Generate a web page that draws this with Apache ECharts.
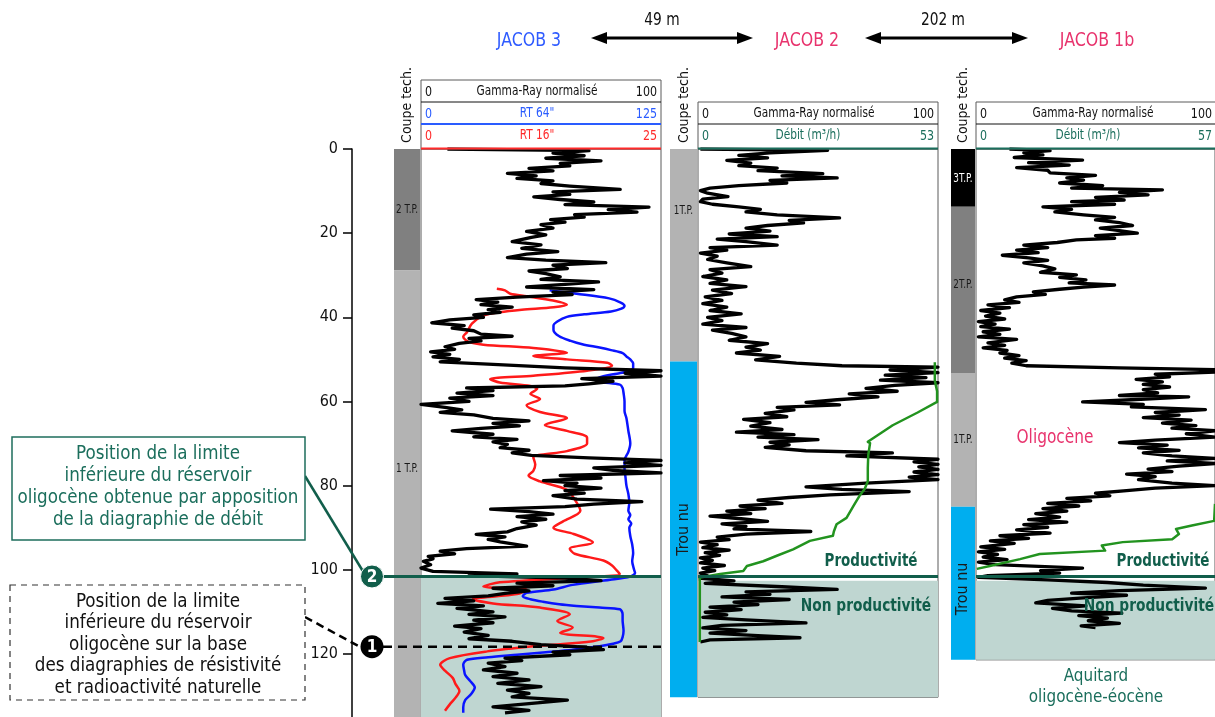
<!DOCTYPE html>
<html><head><meta charset="utf-8">
<script src="https://cdn.jsdelivr.net/npm/echarts@6/dist/echarts.min.js"></script>
<style>html,body{margin:0;padding:0;background:#fff;}#c{width:1215px;height:717px;}</style>
</head><body><div id="c"></div>
<script>
const FONT = "'DejaVu Sans Condensed','DejaVu Sans',sans-serif";

// ---------- data ----------
const depthTicks = [0, 20, 40, 60, 80, 100, 120];
const wells = ['JACOB 3', 'JACOB 2', 'JACOB 1b'];
const distances = ['49 m', '202 m'];
const grScale = [0, 100];
const rt64Scale = [0, 125];
const rt16Scale = [0, 25];
const debitJ2Scale = [0, 53];
const debitJ1bScale = [0, 57];
const wellBottoms = [135, 129, 120.2];
const limitFlowDepth = 101.6;   // limite 2 (débit)
const limitResDepth = 118.3;    // limite 1 (résistivité)

// coupe technique: [top, bottom, label, labelDepth, kind]
const j3Coupe = [[0, 28.9, '2 T.P.', 14.5, 'tp2'], [28.9, 135, '1 T.P.', 76, 'tp1']];
const j2Coupe = [[0, 50, '1T.P.', 14.6, 'tp1'], [50, 129, 'Trou nu', 89.5, 'open']];
const j1bCoupe = [[0, 13.6, '3T.P.', 7, 'tp3'], [13.6, 52.7, '2T.P.', 32, 'tp2'], [52.7, 84.2, '1T.P.', 68.5, 'tp1'], [84.2, 120.2, 'Trou nu', 103.5, 'open']];

// curves: [depth, value]
const j3Gr = [[0,11],[0.4,70],[1,55],[1.6,68],[2.2,52],[2.8,75],[3.4,58],[4,62],[4.6,45],[5.2,55],[5.8,36],[6.4,48],[7,40],[7.6,55],[8.2,50],[8.8,62],[9.6,83],[10.2,55],[10.8,62],[11.4,47],[12,58],[12.6,72],[13.2,60],[13.8,95],[14.4,78],[15,90],[15.6,64],[16.2,68],[16.8,54],[17.4,60],[18,50],[18.8,55],[19.6,44],[20.4,52],[21,46],[22,38],[22.8,50],[23.6,42],[24.4,57],[25,44],[25.8,36],[26.4,52],[27,77],[27.6,55],[28.4,61],[29,45],[29.6,52],[30.4,58],[31,50],[31.6,74],[32.2,60],[32.8,44],[33.4,72],[34,55],[34.6,63],[35.2,40],[35.8,23],[36.4,32],[37,25],[37.6,38],[38.2,28],[38.8,33],[39.4,22],[40,26],[40.6,12],[41.3,4.5],[42,18],[42.6,13],[43.2,22],[44,25],[44.5,38],[45,20],[45.6,25],[46.2,16],[47,10],[47.6,14],[48.2,4],[48.8,12],[49.4,5],[50,16],[50.6,8],[51.2,30],[52,60],[52.7,100],[53.3,85],[54,100],[54.6,67],[55.2,80],[55.8,70],[56.3,60],[56.8,19],[57.4,30],[58,15],[58.6,30],[59.2,12],[60,20],[60.7,0],[61.4,10],[62,17],[62.6,8],[63.2,22],[64,30],[64.6,45],[65.2,30],[65.8,41],[66.4,25],[67,13],[67.8,30],[68.4,22],[69,40],[69.6,30],[70.2,36],[71,33],[71.6,45],[72.2,38],[72.8,46],[73.4,70],[74,100],[74.6,85],[75.2,100],[75.8,72],[76.4,80],[77,100],[77.6,58],[78.2,75],[78.8,51],[79.4,65],[80,60],[80.6,75],[81.2,60],[81.8,68],[82.4,55],[83.2,65],[83.8,92],[84.4,72],[85,60],[85.6,29],[86.2,45],[86.8,55],[87.4,40],[88,52],[88.6,42],[89.4,48],[90.2,40],[91,36],[91.6,23],[92.2,35],[92.8,28],[93.4,33],[94.4,44],[95,19],[95.6,8],[96.2,14],[96.8,3],[97.4,5],[98,1],[98.8,4],[99.6,0],[100.4,5],[101,40],[101.4,20],[102,60],[102.6,75],[103.2,40],[103.8,55],[104.4,30],[105,45],[105.6,35],[106.2,28],[106.8,10],[107.4,22],[108,7],[108.6,26],[109.2,15],[110,30],[110.6,20],[111.2,35],[112,22],[112.6,30],[113.4,14],[114,25],[114.8,18],[115.6,28],[116.4,20],[117,38],[117.8,50],[118.4,68],[119,76],[119.6,55],[120.2,62],[121,35],[121.6,42],[122.2,28],[123,35],[123.8,26],[124.6,40],[125.4,30],[126.2,45],[127,32],[127.8,50],[128.6,36],[129.4,45],[130.2,38],[131,61],[131.8,45],[132.6,30],[133.4,45],[134,35]];
const j3Rt64 = [[33.6,67],[34.4,81],[35.5,98],[36.5,104],[37.3,106],[38,104],[38.6,99],[39.3,85],[39.9,76],[41,71],[42,69],[43,69],[44.5,72],[45.6,78],[46.4,84],[47.2,93],[47.8,99],[48.5,105],[49.3,107],[50,109],[51,110.5],[52,110.5],[52.7,109],[53.4,102],[54,95],[54.7,91.5],[55.3,93],[56,103.6],[56.8,105],[58,105.5],[60,106],[62.3,106],[64,107],[67,108],[70,109],[72,108],[74,106],[76,106],[78,106.5],[80,107],[82,108],[84,108.5],[86,108],[87,109],[88,108],[89,109.5],[90,108.5],[92,109],[94,110],[96,110.5],[98,110],[100,111],[100.8,111.5],[101.6,109],[102.4,98.5],[103.6,79],[104.7,69],[105.5,55],[106.3,53],[107,57],[107.6,63.5],[108.2,72],[108.6,81],[109,93],[109.4,103.6],[110.6,105],[112,105],[114.5,105.5],[116,105],[117,104],[117.6,100],[118.2,93],[119,79],[119.6,65],[120.2,50],[120.8,35],[121.4,24],[122.6,22],[124,22.5],[125,23],[126.4,25.5],[128,28],[129.6,26],[131,23],[132.7,22],[134,22]];
const j3Rt16 = [[33.2,7.9],[33.6,8.75],[34.4,9.3],[35,11],[36,13.75],[37,15.2],[37.6,13.8],[38.2,10.5],[38.8,8.2],[39.6,6.5],[41.5,5.3],[43.5,4.8],[44.6,4.4],[45.8,4.9],[46.5,6.5],[47.3,11.7],[48.4,15.2],[49.2,11.7],[50,15.2],[50.8,19.4],[51.5,19.9],[52.7,17.3],[53.9,11.7],[54.7,7.2],[55.5,8.2],[56.3,11.4],[57,12.1],[58.2,11.4],[59.4,12.4],[60.9,11],[62.5,12.4],[64,15.2],[65.6,12.9],[67,15.2],[68.6,17.3],[70,17.3],[71.8,15.2],[73.3,11.7],[75,11.9],[76.5,11.7],[77.6,11.2],[79,12.4],[81,15.2],[84,16.2],[86,16.6],[88.5,14.8],[90,13.8],[91.5,15.9],[93.5,17.9],[95,15.5],[96.2,16],[97.8,19],[99,19.9],[100.2,20.4],[101,20.7],[101.8,16.9],[103,8.2],[104,6.5],[104.7,11],[105.8,10],[107,5.4],[108,7.5],[109,12.4],[110.6,15.5],[112.2,14.2],[113.7,15.8],[115,14.5],[116.2,19],[117,17.9],[118.2,11.7],[119.4,6.9],[121,3],[122.6,2],[124,2.5],[125.7,3.3],[127.2,3.6],[128.8,4],[130.4,3.6],[132,3],[133.5,2.5]];
const j2Gr = [[0,1],[0.3,54],[0.9,30],[1.5,17],[2.1,29],[2.7,12],[3.3,22],[3.9,17],[4.5,33],[5.1,25],[5.8,52],[6.3,35],[6.8,58],[7.4,30],[8,37],[8.6,17],[9.2,5],[9.8,1],[10.4,4],[11.2,12.5],[11.8,2],[12.4,1],[13,6],[13.6,17],[14.2,26],[14.8,20],[15.5,33],[16.2,59],[16.8,38],[17.4,44],[18,29],[18.6,20],[19.3,30],[20,13],[20.6,33],[21.2,8],[21.8,20],[22.6,33],[23.2,5],[23.8,12],[24.5,1],[25.2,8],[26,4],[26.8,12],[27.7,22],[28.4,5],[29.2,10],[30,2],[30.8,12],[31.6,5],[32.4,20],[33.2,6],[34,14],[34.8,3],[35.6,10],[36.4,2],[37.2,12],[38,5],[38.8,18],[39.6,4],[40.4,10],[41.2,2],[42,20],[42.6,6],[43.4,14],[44.2,20],[45,13],[45.8,29],[46.6,20],[47.3,26],[48,16],[48.8,34],[49.6,24],[50.4,41],[51,60],[51.3,100],[52,80],[52.6,100],[53.2,78],[53.8,95],[54.4,76],[55,100],[55.6,82],[56.3,70],[57,83],[57.6,63],[58.3,75],[59,58],[59.6,45],[60.2,59],[60.8,33],[61.4,40],[62.2,28],[63,37],[63.6,19],[64.4,30],[65.2,22],[66,35],[66.6,16],[67.2,40],[67.8,25],[68.4,50],[69,30],[69.6,38],[70.2,28],[71,45],[71.5,81],[72.2,62],[73,100],[73.6,90],[74.2,100],[74.8,92],[75.4,100],[76,90],[76.6,100],[77.2,88],[77.8,100],[78.6,70],[79.5,45],[80.1,60],[80.6,88],[81.4,55],[82,38],[82.6,25],[83.4,35],[84,17.5],[84.6,28],[85.2,12],[85.8,22],[86.4,5],[87,18],[87.6,29],[88.2,10],[88.8,20],[89.4,15],[90,47],[90.6,20],[91.3,8],[91.9,13],[92.5,1],[93.1,8],[93.8,2],[94.4,13],[95,3],[95.6,9],[96.2,1],[96.8,6],[97.4,1],[98,11],[98.6,2],[99.2,7],[99.8,1],[100.4,4],[101,1],[101.6,15],[102.2,3],[103,35],[103.6,58],[104.2,20],[104.8,30],[105.4,10],[106,38],[106.6,15],[107.2,25],[107.8,5],[108.4,18],[109,3],[109.6,12],[110.2,2],[110.8,20],[111.5,45],[112.1,10],[112.7,2],[113.3,20],[113.9,5],[114.5,25],[115,42.5],[115.5,5],[116,1]];
const j2Debit = [[50.2,52.3],[52,52.3],[54.5,52.3],[57,52.8],[59.5,52.8],[62,48.5],[65,43],[68.9,37.5],[69.2,38],[72,37.6],[75,37.5],[78.2,37.5],[80,36.8],[81.4,35.8],[83.7,34.5],[86.8,32.8],[88.3,30.6],[90,30],[91,29.8],[92.2,24.7],[94.2,21],[95.7,17.4],[97,14.4],[98.1,10.8],[99.3,10],[100,4.9],[100.8,0.4],[116,0.4]];
const j1bGr = [[0,14],[0.4,31],[0.9,20],[1.4,28],[2,16],[2.6,44.6],[3.2,22],[3.8,39],[4.4,17],[5,30],[5.6,31],[6.2,50],[6.8,38],[7.3,45],[8,35],[8.6,53],[9.2,40],[9.6,78],[10.2,60],[10.8,72],[11.4,50],[12,62],[12.4,40],[13,58],[13.6,28],[14.2,40],[14.8,33],[15.5,45],[16.1,58],[16.7,50],[17.3,60],[18,65.5],[18.6,52],[19.2,60],[19.8,67.5],[20.4,50],[21,58],[21.4,42],[22,34],[22.6,20],[23.2,30],[23.8,17],[24.4,26],[25,11],[25.6,22],[26.2,30],[26.8,20],[27.5,28],[28.2,33],[29,27],[29.6,42],[30.2,35],[30.8,46],[31.5,39],[32,58],[32.5,45],[33,35],[33.6,24],[34.2,29],[34.8,17],[35.5,12],[36.1,18],[36.7,5],[37.3,14],[38,2],[38.6,10],[39.3,4],[40,12],[40.6,1],[41.2,8],[41.8,2],[42.4,14],[43,3],[43.6,10],[44.2,1],[44.8,17],[45.6,5],[46.2,12],[46.8,3],[47.4,13],[48,10],[48.6,18],[49.2,12],[49.8,21],[50.4,15],[51,21],[51.5,60],[51.9,100],[52.5,100],[53,75],[53.6,81],[54.2,67],[54.8,78],[55.4,70],[56,81],[56.6,70],[57.4,76],[58,60],[58.3,89],[59,65],[59.5,44.6],[60.1,70],[60.7,65],[61.3,96],[62,75],[62.6,85],[63.2,70],[63.8,90],[64.5,78],[65.1,92],[65.7,82],[66.3,100],[67,88],[67.8,100],[68.5,75],[69.1,60],[69.7,80],[70.3,68],[70.9,85],[71.5,70],[72.2,82],[72.8,100],[73.4,80],[74,100],[74.6,85],[75.3,72],[75.9,82],[76.5,63],[77.1,75],[77.8,68],[78.6,82],[79.2,100],[79.8,75],[80.4,63],[81,50],[81.6,56],[82.2,38],[82.8,48],[83.4,30],[84,43],[84.6,28],[85.2,38],[85.8,25],[86.6,35],[87.2,22],[87.8,38],[88.4,20],[89,30],[89.6,17],[90.4,31],[91,10],[91.6,22],[92.2,6],[92.8,16],[93.6,2],[94.2,12],[94.8,1],[95.4,9],[96,3],[96.6,13],[97.2,1],[97.8,8],[98.6,44.6],[99.2,27],[99.8,35],[100.4,5],[100.8,1],[101.4,30],[102,55],[102.6,70],[103.3,96],[103.9,60],[104.5,40],[105,63],[105.6,45],[106.2,30],[106.8,25],[107.5,46],[108.1,32],[108.7,40],[109.2,61],[109.8,43],[110.4,55],[111,47],[111.6,60],[112.2,44],[112.6,50]];
const j1bDebit = [[83.5,57],[87.5,56.8],[88.6,51.5],[89.4,47.7],[90.6,48.4],[91.8,46.8],[92.5,35],[93.3,30],[94.5,30.8],[95.3,15.2],[96.5,10.5],[98.1,3.3],[98.8,0.2]];

// texts
const legendFlow = ['Position de la limite', 'inférieure du réservoir', 'oligocène obtenue par apposition', 'de la diagraphie de débit'];
const legendRes = ['Position de la limite', 'inférieure du réservoir', 'oligocène sur la base', 'des diagraphies de résistivité', 'et radioactivité naturelle'];

// ---------- layout / styles ----------
const PXM = 4.25, TOP = 149;
const COUPE_COLORS = { tp3: '#000000', tp2: '#808080', tp1: '#b3b3b3', open: '#00aeef' };
const GREEN = '#115e4b';
const PINK = '#e8336d';
const BLUE_T = '#2f5bff';

const grids = [
  { left: 394, width: 26, b: wellBottoms[0] },
  { left: 421, width: 240, b: wellBottoms[0], border: true },
  { left: 670, width: 27, b: wellBottoms[1] },
  { left: 698, width: 240, b: wellBottoms[1], border: true },
  { left: 951, width: 24, b: wellBottoms[2] },
  { left: 976, width: 240, b: wellBottoms[2], border: true }
].map(g => ({ left: g.left, width: g.width, top: TOP, height: g.b * PXM, show: !!g.border, borderColor: '#5a5a5a', borderWidth: 1, backgroundColor: 'rgba(0,0,0,0)' }));

const xA = (gi, sc) => ({ type: 'value', gridIndex: gi, min: sc[0], max: sc[1], show: false });
const xAxis = [xA(0,[0,1]), xA(1,grScale), xA(1,rt64Scale), xA(1,rt16Scale), xA(2,[0,1]), xA(3,grScale), xA(3,debitJ2Scale), xA(4,[0,1]), xA(5,grScale), xA(5,debitJ1bScale)];
const gridBottom = [0,0,1,1,2,2];
const yAxis = gridBottom.map((w, gi) => ({ type: 'value', gridIndex: gi, inverse: true, min: 0, max: wellBottoms[w], show: false }));
yAxis[0] = {
  type: 'value', gridIndex: 0, inverse: true, min: depthTicks[0], max: wellBottoms[0], interval: depthTicks[1] - depthTicks[0],
  position: 'left', offset: 42,
  axisLine: { show: true, onZero: false, lineStyle: { color: '#000', width: 1.5 } },
  axisTick: { show: true, length: 9, lineStyle: { color: '#000', width: 1.5 } },
  axisLabel: { show: true, margin: 14, fontSize: 16, color: '#111', fontFamily: FONT, showMaxLabel: false, formatter: v => depthTicks.includes(v) ? String(v) : '' },
  splitLine: { show: false }
};

function coupeSeries(seg, xi, yi) {
  return {
    type: 'custom', xAxisIndex: xi, yAxisIndex: yi, z: 1, silent: true,
    data: seg.map(s => [s[0], s[1]]),
    renderItem: (params, api) => {
      const s = seg[params.dataIndex];
      const p0 = api.coord([0, s[0]]), p1 = api.coord([1, s[1]]);
      const cs = params.coordSys;
      const open = s[4] === 'open';
      const pl = api.coord([0.5, s[3]]);
      return { type: 'group', children: [
        { type: 'rect', shape: { x: cs.x, y: p0[1], width: cs.width, height: p1[1] - p0[1] }, style: { fill: COUPE_COLORS[s[4]] } },
        { type: 'text', x: cs.x + cs.width / 2, y: pl[1], rotation: open ? Math.PI / 2 : 0, scaleX: open ? 1 : 0.82,
          style: { text: s[2], fill: s[4] === 'tp3' ? '#fff' : '#1a1a1a', font: (open ? '16px ' : '12px ') + FONT, align: 'center', verticalAlign: 'middle' } }
      ]};
    }
  };
}
function shadeSeries(xi, yi, bottom) {
  return {
    type: 'custom', xAxisIndex: xi, yAxisIndex: yi, z: 1, silent: true,
    data: [[limitFlowDepth, bottom]],
    renderItem: (params, api) => {
      const cs = params.coordSys;
      const y0 = api.coord([0, api.value(0)])[1], y1 = api.coord([0, api.value(1)])[1];
      return { type: 'rect', shape: { x: cs.x, y: y0, width: cs.width, height: y1 - y0 }, style: { fill: '#bfd6d1' } };
    }
  };
}
const lineS = (d, xi, yi, color, w, smooth) => ({
  type: 'line', xAxisIndex: xi, yAxisIndex: yi, z: 3, silent: true, symbol: 'none', smooth: smooth || false, clip: true,
  data: d.map(p => [p[1], p[0]]), lineStyle: { color, width: w, join: 'round' }
});

const series = [
  coupeSeries(j3Coupe, 0, 0), coupeSeries(j2Coupe, 4, 2), coupeSeries(j1bCoupe, 7, 4),
  shadeSeries(1, 1, wellBottoms[0]), shadeSeries(5, 3, wellBottoms[1]), shadeSeries(8, 5, wellBottoms[2]),
  lineS(j3Rt64, 2, 1, '#0a14ff', 2.5, 0.3),
  lineS(j3Rt16, 3, 1, '#ff1a1a', 2.5, 0.3),
  lineS(j3Gr, 1, 1, '#000', 3.3),
  lineS(j2Gr, 5, 3, '#000', 3.3),
  lineS(j2Debit, 6, 3, '#22931f', 2.5),
  lineS(j1bGr, 8, 5, '#000', 3.3),
  lineS(j1bDebit, 9, 5, '#22931f', 2.5)
];

const chart = echarts.init(document.getElementById('c'), null, { renderer: 'canvas' });
chart.setOption({ animation: false, backgroundColor: '#fff', grid: grids, xAxis, yAxis, series });

// ---------- annotations ----------
const yOf = (yi, d) => chart.convertToPixel({ yAxisIndex: yi }, d);
const yFlow = yOf(1, limitFlowDepth), yRes = yOf(1, limitResDepth);
const T = (text, x, y, size, color, align, sx, bold) => ({ type: 'text', x, y, z: 50, scaleX: sx || 1,
  style: { text, fill: color, font: (bold ? 'bold ' : '') + size + 'px ' + FONT, align: align || 'center', verticalAlign: 'middle' } });
const L = (x1, y1, x2, y2, color, w, dash) => ({ type: 'line', z: 40, shape: { x1, y1, x2, y2 }, style: { stroke: color, lineWidth: w, lineDash: dash || null } });
const tri = (pts) => ({ type: 'polygon', z: 40, shape: { points: pts }, style: { fill: '#000' } });
function arrow(x1, x2, y) {
  return [L(x1 + 12, y, x2 - 12, y, '#000', 3), tri([[x1, y], [x1 + 16, y - 6], [x1 + 16, y + 6]]), tri([[x2, y], [x2 - 16, y - 6], [x2 - 16, y + 6]])];
}
function header(x, w, top, rows) {
  const els = [{ type: 'rect', z: 40, shape: { x: x, y: top, width: w, height: TOP - top }, style: { fill: null, stroke: '#5a5a5a', lineWidth: 1 } }];
  rows.forEach((r, i) => {
    const cy = top + 11 + i * 22;
    els.push(T(String(r.sc[0]), x + 4, cy + 1, 14, r.color, 'left', 0.88));
    els.push(T(r.name, x + r.cx, cy, 14, r.color, 'center', 0.84));
    els.push(T(String(r.sc[1]), x + w - 4, cy + 1, 14, r.color, 'right', 0.88));
    const ly = top + 22 * (i + 1) + (i === rows.length - 1 ? 2.5 : 0);
    els.push(L(x, ly, x + w, ly, r.line, r.lw));
  });
  return els;
}
const coupeTitle = (x) => ({ type: 'text', x, y: 105, z: 50, rotation: Math.PI / 2,
  style: { text: 'Coupe tech.', fill: '#111', font: '14px ' + FONT, align: 'center', verticalAlign: 'middle' } });

const gx = [];
gx.push(T(wells[0], 529, 41, 20, BLUE_T, 'center', 0.88), T(wells[1], 807, 41, 20, PINK, 'center', 0.88), T(wells[2], 1097, 41, 20, PINK, 'center', 0.88));
gx.push(...arrow(591, 753, 38), ...arrow(865, 1028, 38));
gx.push(T(distances[0], 662, 21, 17, '#111', 'center', 0.9), T(distances[1], 943, 21, 17, '#111', 'center', 0.9));
gx.push(coupeTitle(407), coupeTitle(684), coupeTitle(963));
gx.push(...header(421, 240, 80, [
  { name: 'Gamma-Ray normalisé', sc: grScale, color: '#111', cx: 116, line: '#111', lw: 1 },
  { name: 'RT 64"', sc: rt64Scale, color: '#2a5cff', cx: 116, line: '#2a5cff', lw: 2 },
  { name: 'RT 16"', sc: rt16Scale, color: '#ff2a2a', cx: 116, line: '#ff2a2a', lw: 2 }
]));
gx.push(...header(698, 240, 102, [
  { name: 'Gamma-Ray normalisé', sc: grScale, color: '#111', cx: 116, line: '#111', lw: 1 },
  { name: 'Débit (m³/h)', sc: debitJ2Scale, color: '#1b6e5c', cx: 110, line: '#1b6e5c', lw: 2 }
]));
gx.push(...header(976, 240, 102, [
  { name: 'Gamma-Ray normalisé', sc: grScale, color: '#111', cx: 117, line: '#111', lw: 1 },
  { name: 'Débit (m³/h)', sc: debitJ1bScale, color: '#1b6e5c', cx: 112, line: '#1b6e5c', lw: 2 }
]));
// limit lines
gx.push(L(380, yFlow, 661, yFlow, GREEN, 3), L(698, yFlow, 938, yFlow, GREEN, 3), L(976, yFlow, 1215, yFlow, GREEN, 3));
gx.push(L(383, yRes, 661, yRes, '#000', 2.5, [9, 6]));
// connectors and boxes
gx.push(L(305, 476, 364, 573, GREEN, 2.5));
gx.push(L(305, 617, 362, 648, '#000', 2.5, [8, 5]));
gx.push({ type: 'rect', z: 40, shape: { x: 12, y: 437, width: 293, height: 103 }, style: { fill: '#fff', stroke: '#1e6e5c', lineWidth: 1.5 } });
legendFlow.forEach((t, i) => gx.push(T(t, 158, 454 + i * 22, 20, '#1b6e5c', 'center', 0.93)));
gx.push({ type: 'rect', z: 40, shape: { x: 10, y: 585, width: 295, height: 115 }, style: { fill: '#fff', stroke: '#333', lineWidth: 1.2, lineDash: [6, 5] } });
legendRes.forEach((t, i) => gx.push(T(t, 158, 602 + i * 21.5, 19, '#111', 'center', 0.98)));
// circles
gx.push({ type: 'circle', z: 45, shape: { cx: 372, cy: yFlow, r: 11.5 }, style: { fill: GREEN, stroke: '#fff', lineWidth: 1 } });
gx.push(Object.assign(T('2', 372, yFlow + 1, 17, '#fff', 'center', 1, true), { z: 46 }));
gx.push({ type: 'circle', z: 45, shape: { cx: 372, cy: yRes, r: 11.5 }, style: { fill: '#000' } });
gx.push(Object.assign(T('1', 372, yRes + 1, 17, '#fff', 'center', 1, true), { z: 46 }));
// zone labels
gx.push(T('Productivité', 871, 562, 17, GREEN, 'center', 0.88, true), T('Productivité', 1163, 562, 17, GREEN, 'center', 0.88, true));
gx.push(T('Non productivité', 866, 607, 17, GREEN, 'center', 0.9, true), T('Non productivité', 1149, 607, 17, GREEN, 'center', 0.9, true));
gx.push(T('Oligocène', 1055, 438, 19, PINK, 'center', 0.9));
gx.push(T('Aquitard', 1096, 676, 18, '#1b6e5c', 'center', 0.94), T('oligocène-éocène', 1096, 697, 18, '#1b6e5c', 'center', 0.94));

chart.setOption({ graphic: { elements: gx } });
</script></body></html>
